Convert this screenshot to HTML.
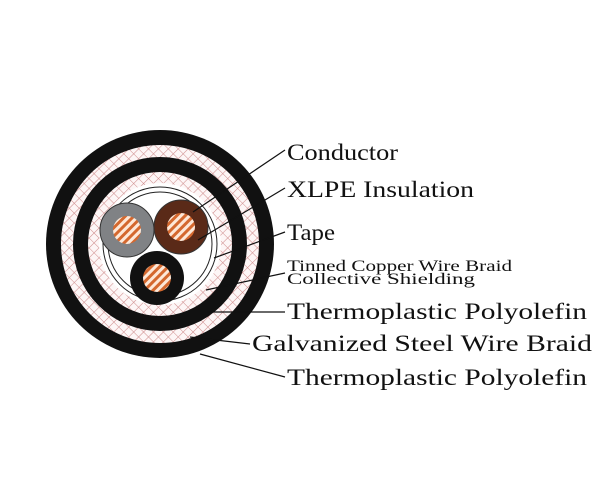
<!DOCTYPE html>
<html><head><style>
html,body{margin:0;padding:0;background:#fff;}
svg{display:block;}
text{font-family:"Liberation Serif",serif;fill:#111;}
</style></head><body>
<svg width="600" height="500" viewBox="0 0 600 500" xmlns="http://www.w3.org/2000/svg">
<defs>
<pattern id="br" width="7" height="7" patternUnits="userSpaceOnUse" patternTransform="rotate(45)">
<rect width="7" height="7" fill="#fdf6f6"/>
<path d="M0 0H7M0 0V7" stroke="#cf8c8c" stroke-width="1.1"/>
</pattern>
<pattern id="cu" width="6" height="6" patternUnits="userSpaceOnUse" patternTransform="rotate(-45)">
<rect width="6" height="6" fill="#fde8d8"/>
<rect width="6" height="3" fill="#d4682e"/>
</pattern>
</defs>
<circle cx="160" cy="244" r="114" fill="#111"/>
<circle cx="160" cy="244" r="99" fill="url(#br)"/>
<circle cx="160" cy="244" r="87" fill="#111"/>
<circle cx="160" cy="244" r="72" fill="url(#br)"/>
<circle cx="160" cy="244" r="61" fill="#fff"/>
<circle cx="160" cy="244" r="57" fill="none" stroke="#222" stroke-width="1"/>
<circle cx="160" cy="244" r="52" fill="none" stroke="#222" stroke-width="1"/>
<circle cx="127" cy="230" r="27" fill="#808285" stroke="#333"/>
<circle cx="127" cy="230" r="14" fill="url(#cu)"/>
<circle cx="181" cy="227" r="27" fill="#5a2a18" stroke="#333"/>
<circle cx="181" cy="227" r="14" fill="url(#cu)"/>
<circle cx="157" cy="278" r="27" fill="#111"/>
<circle cx="157" cy="278" r="14" fill="url(#cu)"/>
<g stroke="#111" stroke-width="1.2" fill="none">
<line x1="285" y1="150" x2="193" y2="212"/>
<line x1="285" y1="188" x2="198" y2="240"/>
<line x1="285" y1="232" x2="214" y2="258"/>
<line x1="285" y1="273" x2="206" y2="290"/>
<line x1="285" y1="312" x2="207" y2="312"/>
<line x1="250" y1="344" x2="190" y2="337"/>
<line x1="285" y1="377" x2="200" y2="354"/>
</g>
<text x="287" y="160" font-size="23" textLength="111" lengthAdjust="spacingAndGlyphs">Conductor</text>
<text x="287" y="197" font-size="23" textLength="187" lengthAdjust="spacingAndGlyphs">XLPE Insulation</text>
<text x="287" y="240" font-size="23" textLength="48" lengthAdjust="spacingAndGlyphs">Tape</text>
<text x="287" y="271" font-size="16" textLength="225" lengthAdjust="spacingAndGlyphs">Tinned Copper Wire Braid</text>
<text x="287" y="284" font-size="16" textLength="188" lengthAdjust="spacingAndGlyphs">Collective Shielding</text>
<text x="287" y="319" font-size="23" textLength="300" lengthAdjust="spacingAndGlyphs">Thermoplastic Polyolefin</text>
<text x="252" y="351" font-size="23" textLength="340" lengthAdjust="spacingAndGlyphs">Galvanized Steel Wire Braid</text>
<text x="287" y="385" font-size="23" textLength="300" lengthAdjust="spacingAndGlyphs">Thermoplastic Polyolefin</text>
</svg>
</body></html>
